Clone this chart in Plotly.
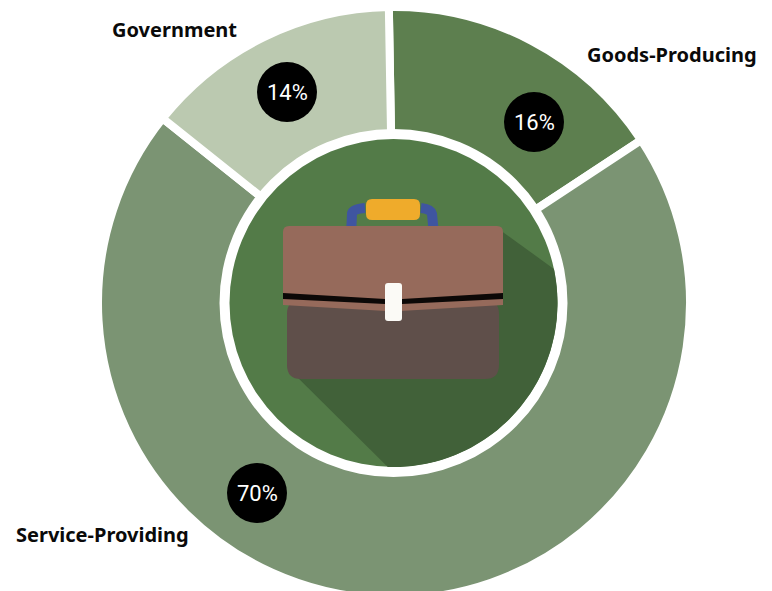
import math
import plotly.graph_objects as go

# Data
categories = ["Goods-Producing", "Service-Providing", "Government"]
shares = [16, 70, 14]
slice_colors = ["#5d7f4f", "#7b9473", "#bbc9b0"]

W, H = 772, 600
CX, CY, R = 394, 303, 296  # domain half-size; plotly insets the pie by half the slice outline

fig = go.Figure()
fig.add_trace(go.Pie(
    labels=categories, values=shares, sort=False, direction="clockwise", rotation=-1,
    hole=0.55, textinfo="none", hoverinfo="label+percent", showlegend=False,
    marker=dict(colors=slice_colors, line=dict(color="white", width=8)),
    domain=dict(x=[(CX - R) / W, (CX + R) / W], y=[1 - (CY + R) / H, 1 - (CY - R) / H]),
))
# invisible trace that keeps the pixel-scaled cartesian axes alive for the icon shapes
fig.add_trace(go.Scatter(x=[0], y=[0], mode="markers", marker=dict(opacity=0), hoverinfo="skip", showlegend=False))


def circle(cx, cy, r, fill):
    return dict(type="circle", x0=cx - r, x1=cx + r, y0=cy - r, y1=cy + r,
                fillcolor=fill, line=dict(width=0), xref="x", yref="y")


def path(d, fill, line=None, lw=0):
    return dict(type="path", path=d, fillcolor=fill, xref="x", yref="y",
                line=dict(color=line or "rgba(0,0,0,0)", width=lw))


def rrect(x0, y0, x1, y1, r):
    return (f"M {x0+r} {y0} L {x1-r} {y0} Q {x1} {y0} {x1} {y0+r} L {x1} {y1-r} Q {x1} {y1} {x1-r} {y1} "
            f"L {x0+r} {y1} Q {x0} {y1} {x0} {y1-r} L {x0} {y0+r} Q {x0} {y0} {x0+r} {y0} Z")


# long shadow outline, clipped to the inner disc by following its edge
ICX, ICY, IR = 393.5, 303, 164
a0, a1 = math.radians(-12), math.radians(92)
arc = " ".join(
    f"L {ICX + IR * math.cos(a0 + (a1 - a0) * i / 48):.1f} {ICY + IR * math.sin(a0 + (a1 - a0) * i / 48):.1f}"
    for i in range(49)
)

shapes = [
    circle(393.5, 303, 174, "white"),
    circle(ICX, ICY, IR, "#537b48"),
    path(f"M 500 230 {arc} L 288 368 Z", "#416139"),
    # bottom body
    path(rrect(287, 300, 499, 379, 14), "#5f4f4a"),
    # handle arms
    dict(type="path", path="M 351 235 L 352 214 Q 352 209 365 208", xref="x", yref="y",
         line=dict(color="#3f55a0", width=10)),
    dict(type="path", path="M 434 235 L 432 214 Q 431 209 421 208", xref="x", yref="y",
         line=dict(color="#3f55a0", width=10)),
    # handle grip
    path(rrect(366, 199, 420, 220, 6), "#efab2b"),
    # top flap
    path("M 289 226 L 497 226 Q 503 226 503 232 L 503 305 L 400 311 L 386 311 L 283 305 L 283 232 Q 283 226 289 226 Z", "#966a5b"),
    # black seam
    path("M 283 293 L 385 299 L 402 299 L 503 293 L 503 299 L 402 304 L 385 304 L 283 299 Z", "#0c0807"),
    # clasp
    path(rrect(385, 283, 402, 321, 3), "#fbfaf6"),
    # value badges
    circle(534, 122, 30, "black"),
    circle(257, 493, 30, "black"),
    circle(287, 92, 30, "black"),
]

badge_pos = [(534, 122), (257, 493), (287, 92)]
label_pos = [(671.5, 54), (102, 534), (174.5, 29)]
annotations = []
for cat, val, (bx, by), (lx, ly) in zip(categories, shares, badge_pos, label_pos):
    annotations.append(dict(x=bx, y=by, xref="x", yref="y", text=f"{val}%", showarrow=False,
                            font=dict(family="Roboto", size=22, color="white", weight=400)))
    annotations.append(dict(x=lx, y=ly, xref="x", yref="y", text=cat, showarrow=False,
                            font=dict(family="Noto Sans", size=20, color="#0a0a0a", weight=700)))

fig.update_layout(
    width=W, height=H, margin=dict(l=0, r=0, t=0, b=0),
    paper_bgcolor="white", plot_bgcolor="rgba(0,0,0,0)",
    xaxis=dict(visible=False, range=[0, W], fixedrange=True),
    yaxis=dict(visible=False, range=[H, 0], fixedrange=True),
    shapes=shapes, annotations=annotations, showlegend=False,
)
fig.write_html("out.html", config=dict(displayModeBar=False),
               post_script="document.body.style.margin='0';document.body.style.overflow='hidden';document.documentElement.style.overflow='hidden';")
